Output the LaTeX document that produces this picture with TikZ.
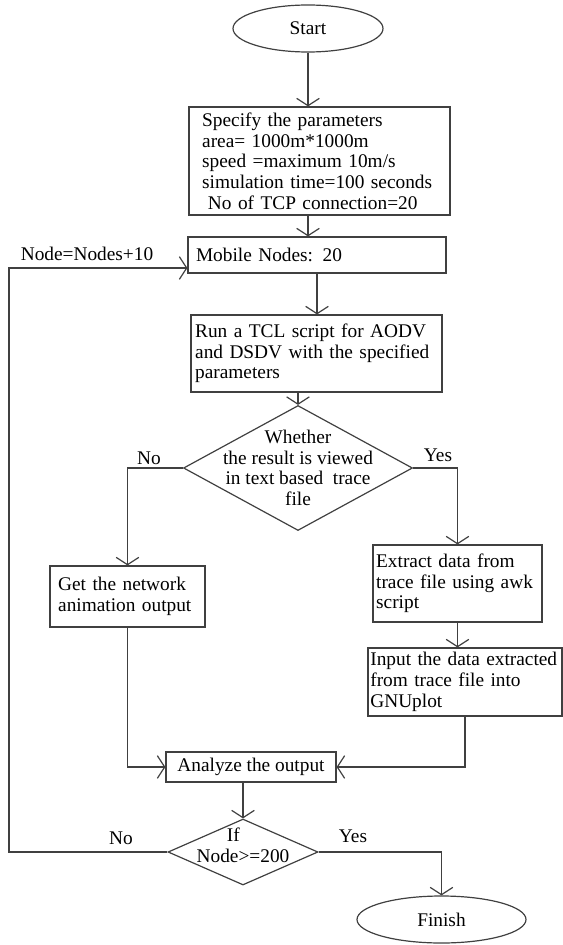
\documentclass[tikz,border=0pt]{standalone}
\usepackage{fontspec}
\setmainfont{Liberation Serif}
\usetikzlibrary{arrows.meta}
\usetikzlibrary{shapes.geometric}

\begin{document}
\begin{tikzpicture}[->, >={Straight Barb[length=5.5pt,width=17pt]}, x=0.75pt, y=-0.75pt,
        line width=0.9pt, color=black!75,
        every node/.style={text=black, font=\fontsize{14.5}{15.5}\selectfont},
        box/.style={draw, rectangle, align=left, inner sep=0pt},
        term/.style={draw, ellipse, inner sep=0pt},
        cond/.style={draw, diamond, inner sep=0pt}]
        \useasboundingbox (0,0) rectangle (563,945);

        \node[term, minimum width=112.5pt, minimum height=35.25pt] (start) at (308,28.5) {Start};
        \node[box, minimum width=195.75pt, minimum height=81pt, text width=176pt] (spec) at (319.5,161)
            {Specify the parameters\\ area= 1000m*1000m\\ speed =maximum 10m/s\\ simulation time=100 seconds\\ \hspace*{0.3em}No of TCP connection=20};
        \node[box, minimum width=193.5pt, minimum height=27pt, text width=181.5pt] (mob) at (317,255) {Mobile Nodes: 20};
        \node[box, minimum width=188.25pt, minimum height=57.75pt, text width=182pt] (tcl) at (316.5,353.5)
            {Run a TCL script for AODV\\ and DSDV with the specified\\ parameters};
        \node[cond, minimum width=171.75pt, minimum height=93.75pt,
            label={[align=center]center:{Whether\\ the result is viewed\\ in text based\ \ trace\\ file}}] (view) at (298,468) {};
        \node[box, minimum width=116.25pt, minimum height=45.75pt, text width=104pt] (anim) at (127.5,596.5)
            {Get the network\\ animation output};
        \node[box, minimum width=126.75pt, minimum height=57.75pt, text width=122pt] (awk) at (457.5,583.5)
            {Extract data from\\ trace file using awk\\ script};
        \node[box, minimum width=145.5pt, minimum height=51pt, text width=142pt] (gnu) at (465,682)
            {Input the data extracted\\ from trace file into\\ GNUplot};
        \node[box, minimum width=127.5pt, minimum height=22.5pt, align=center] (ana) at (251,767) {Analyze the output};
        \node[cond, minimum width=112.5pt, minimum height=49.5pt,
            label={[align=center, yshift=5pt]center:{If\hspace*{1em}\\ Node>=200}}] (lim) at (243,852) {};
        \node[term, minimum width=126.75pt, minimum height=35.25pt] (fin) at (441.5,919.5) {Finish};

        \node (inc) at (87,254) {Node=Nodes+10};
        \node (no1) at (149,458) {No};
        \node (yes1) at (438,455) {Yes};
        \node (no2) at (121,838) {No};
        \node (yes2) at (353,836) {Yes};

        \coordinate (back) at (9,268);

        \path (start) edge (start |- spec.north)
              (start |- spec.south) edge (start |- mob.north)
              (mob.south) edge (mob.south |- tcl.north)
              (view |- tcl.south) edge (view.north)
              (awk.south) edge (awk.south |- gnu.north)
              (lim |- ana.south) edge (lim.north);

        \draw (view.west) -| (anim.north);
        \draw (view.east) -| (awk.north);
        \draw (anim.south) |- (ana.west);
        \draw (gnu.south) |- (ana.east);
        \draw (lim.west) -| (back) -- (back -| mob.west);
        \draw (lim.east) -| (fin.north);
    \end{tikzpicture}
\end{document}
